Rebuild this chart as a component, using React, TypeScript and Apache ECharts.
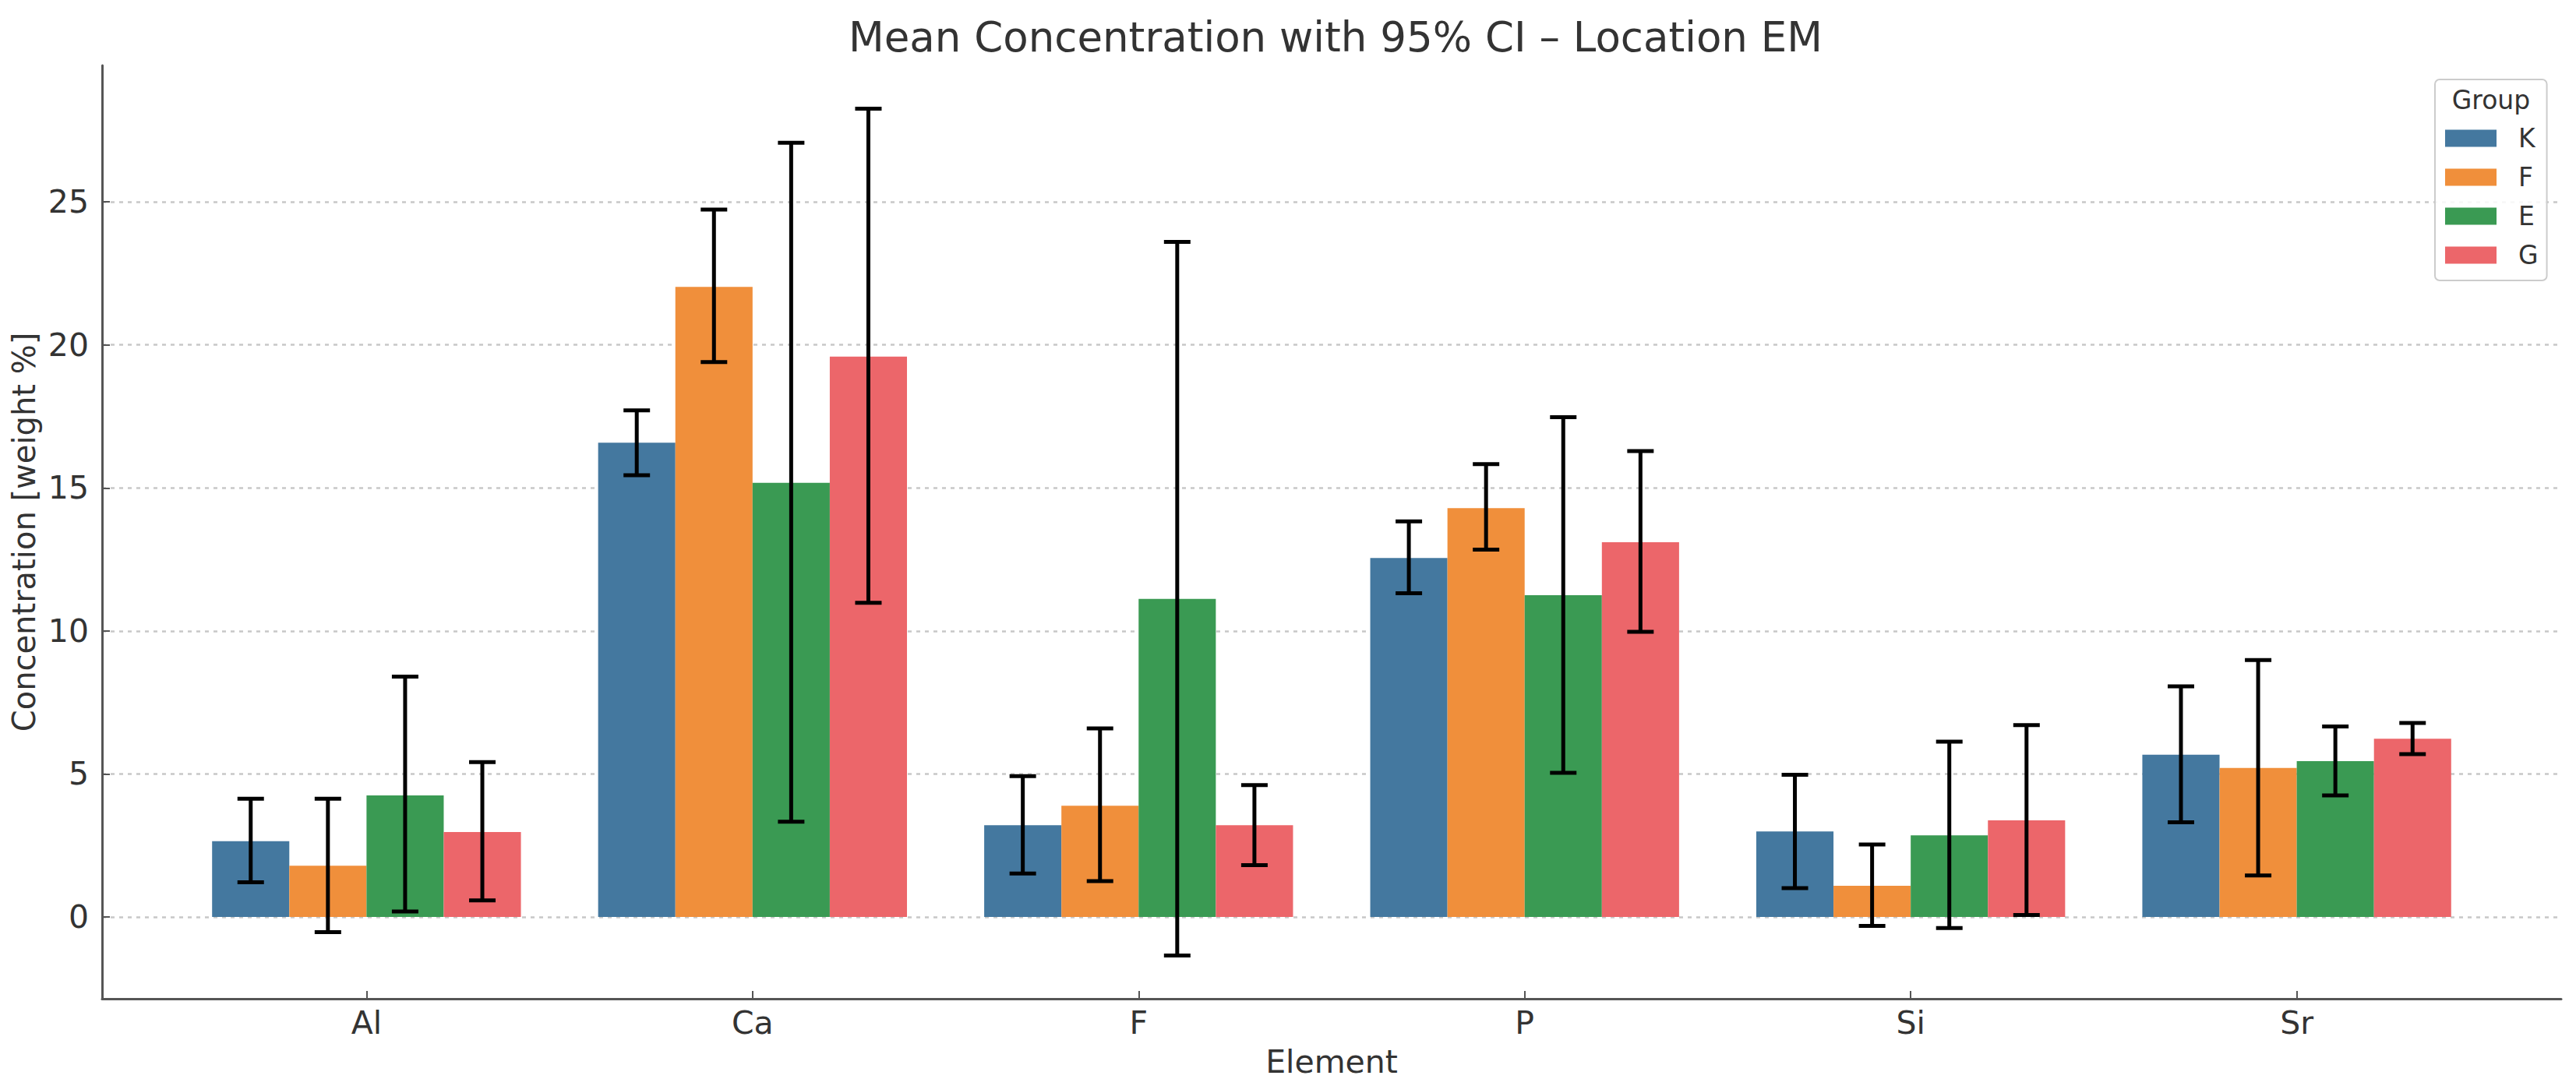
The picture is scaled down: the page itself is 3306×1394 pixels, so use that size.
import React, { useEffect, useRef } from 'react';
import * as echarts from 'echarts';

const categories = ['Al', 'Ca', 'F', 'P', 'Si', 'Sr'];
const groups = ['K', 'F', 'E', 'G'];
const colors = ['#44789f', '#f08f3b', '#3a9a53', '#ec666a'];

const meanK = [2.65, 16.58, 3.21, 12.55, 2.99, 5.67];
const meanF = [1.79, 22.03, 3.89, 14.29, 1.09, 5.21];
const meanE = [4.25, 15.18, 11.12, 11.25, 2.85, 5.45];
const meanG = [2.97, 19.59, 3.21, 13.1, 3.38, 6.23];

const lowK = [1.21, 15.44, 1.52, 11.32, 1.01, 3.31];
const highK = [4.13, 17.71, 4.92, 13.83, 4.97, 8.06];
const lowF = [-0.53, 19.4, 1.25, 12.84, -0.31, 1.45];
const highF = [4.13, 24.73, 6.59, 15.83, 2.53, 8.98];
const lowE = [0.19, 3.33, -1.35, 5.04, -0.39, 4.25];
const highE = [8.4, 27.07, 23.6, 17.47, 6.13, 6.66];
const lowG = [0.58, 10.98, 1.81, 9.97, 0.07, 5.69];
const highG = [5.41, 28.26, 4.61, 16.29, 6.71, 6.78];

const yTicks = [0, 5, 10, 15, 20, 25];
const xTicks = [0, 1, 2, 3, 4, 5];

const means = [meanK, meanF, meanE, meanG];
const lows = [lowK, lowF, lowE, lowG];
const highs = [highK, highF, highE, highG];

const BAR_W = 0.2;
const CAP_HALF = 17;
const FONT = 'DejaVu Sans';
const TEXT = '#333333';
const SPINE = '#555555';

export default function App() {
  const ref = useRef<HTMLDivElement>(null);

  useEffect(() => {
    if (!ref.current) return;
    const chart = echarts.init(ref.current, undefined, { renderer: 'svg' });

    const barSeries = groups.map((g, gi) => ({
      name: g,
      type: 'custom',
      itemStyle: { color: colors[gi] },
      data: means[gi].map((v, ci) => [ci, v]),
      renderItem: (params: any, api: any) => {
        const c = api.value(0);
        const v = api.value(1);
        const xc = c + (gi - 1.5) * BAR_W;
        const p1 = api.coord([xc - BAR_W / 2, v]);
        const p2 = api.coord([xc + BAR_W / 2, 0]);
        return {
          type: 'rect',
          shape: { x: p1[0], y: Math.min(p1[1], p2[1]), width: p2[0] - p1[0], height: Math.abs(p2[1] - p1[1]) },
          style: { fill: colors[gi] },
        };
      },
      z: 2,
    }));

    const errData: number[][] = [];
    groups.forEach((g, gi) => {
      categories.forEach((c, ci) => {
        errData.push([ci, gi, lows[gi][ci], highs[gi][ci]]);
      });
    });

    const errSeries = {
      type: 'custom',
      data: errData,
      z: 5,
      renderItem: (params: any, api: any) => {
        const c = api.value(0);
        const gi = api.value(1);
        const lo = api.value(2);
        const hi = api.value(3);
        const xc = c + (gi - 1.5) * BAR_W;
        const t = api.coord([xc, hi]);
        const b = api.coord([xc, lo]);
        const st = { stroke: '#000', lineWidth: 5 };
        return {
          type: 'group',
          children: [
            { type: 'line', shape: { x1: t[0], y1: t[1], x2: b[0], y2: b[1] }, style: st },
            { type: 'line', shape: { x1: t[0] - CAP_HALF, y1: t[1], x2: t[0] + CAP_HALF, y2: t[1] }, style: st },
            { type: 'line', shape: { x1: b[0] - CAP_HALF, y1: b[1], x2: b[0] + CAP_HALF, y2: b[1] }, style: st },
          ],
        };
      },
    };

    const option: any = {
      animation: false,
      backgroundColor: '#ffffff',
      textStyle: { fontFamily: FONT },
      title: {
        text: 'Mean Concentration with 95% CI – Location EM',
        left: 1709,
        top: 16,
        textAlign: 'center',
        textStyle: { fontFamily: FONT, fontSize: 53, fontWeight: 'normal', color: TEXT },
      },
      grid: { left: 131, right: 19, top: 84, bottom: 112, containLabel: false, outerBoundsMode: 'none' },
      legend: {
        data: groups,
        orient: 'vertical',
        left: 3125,
        top: 102,
        icon: 'rect',
        itemWidth: 66,
        itemHeight: 22,
        itemGap: 17,
        padding: [59, 11, 16, 13],
        backgroundColor: 'rgba(255,255,255,0.85)',
        borderColor: '#cccccc',
        borderWidth: 2,
        borderRadius: 6,
        textStyle: { fontFamily: FONT, fontSize: 33, color: TEXT, padding: [0, 0, 0, 23] },
      },
      graphic: [
        {
          type: 'text',
          x: 3197,
          y: 128,
          z: 100,
          style: { text: 'Group', fontFamily: FONT, fontSize: 33, fill: TEXT, align: 'center', verticalAlign: 'middle' },
        },
      ],
      xAxis: {
        type: 'value',
        min: -0.685,
        max: 5.685,
        name: 'Element',
        nameLocation: 'middle',
        nameGap: 60,
        nameTextStyle: { fontFamily: FONT, fontSize: 41, color: TEXT },
        axisLine: { show: true, onZero: false, lineStyle: { color: SPINE, width: 3 } },
        axisTick: { show: true, inside: true, length: 10, customValues: xTicks, lineStyle: { color: SPINE, width: 2 } },
        axisLabel: {
          show: true,
          customValues: xTicks,
          margin: 10,
          fontFamily: FONT,
          fontSize: 41,
          color: TEXT,
          formatter: (v: number) => categories[Math.round(v)] ?? '',
        },
        splitLine: { show: false },
      },
      yAxis: {
        type: 'value',
        min: -2.86,
        max: 29.77,
        name: 'Concentration [weight %]',
        nameLocation: 'middle',
        nameGap: 80,
        nameTextStyle: { fontFamily: FONT, fontSize: 40, color: TEXT },
        axisLine: { show: true, onZero: false, lineStyle: { color: SPINE, width: 3 } },
        axisTick: { show: true, inside: true, length: 10, customValues: yTicks, lineStyle: { color: SPINE, width: 2 } },
        axisLabel: { show: true, customValues: yTicks, margin: 17, fontFamily: FONT, fontSize: 41, color: TEXT },
        splitLine: { show: true, lineStyle: { color: '#c8c8c8', width: 2.5, type: [5, 6] } },
      },
      series: [...barSeries, errSeries],
    };

    chart.setOption(option);
    return () => chart.dispose();
  }, []);

  return (
    <div
      ref={ref}
      style={{ position: 'absolute', left: 0, top: 0, width: 3306, height: 1394, background: '#fff' }}
    />
  );
}
